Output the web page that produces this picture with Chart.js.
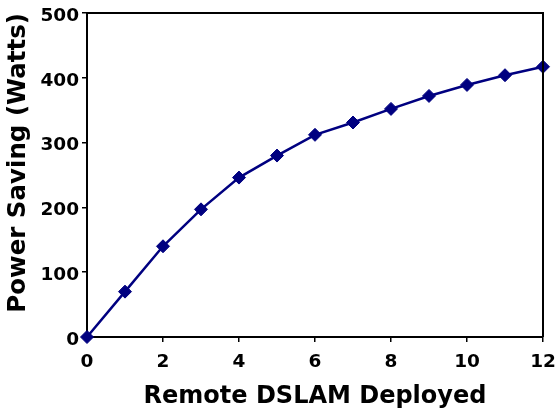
<!DOCTYPE html>
<html>
<head>
<meta charset="utf-8">
<script src="https://cdn.jsdelivr.net/npm/chart.js@4/dist/chart.umd.min.js"></script>
<style>
  html, body { margin: 0; padding: 0; background: #fff; }
  #wrap { width: 560px; height: 420px; }
</style>
</head>
<body>
<div id="wrap"><canvas id="c" width="560" height="420"></canvas></div>
<script>
const dslamDeployed = [0, 1, 2, 3, 4, 5, 6, 7, 8, 9, 10, 11, 12];
const powerSaving = [0, 70, 140, 197, 246, 280, 312, 331, 352, 372, 389, 404, 417];
const xTitle = 'Remote DSLAM Deployed';
const yTitle = 'Power Saving (Watts)';

const FONT = '"DejaVu Sans", Arial, sans-serif';

const frame = {
  id: 'frame',
  afterDatasetsDraw(chart) {
    const a = chart.chartArea, ctx = chart.ctx;
    ctx.save();
    ctx.strokeStyle = '#000';
    ctx.lineWidth = 2;
    ctx.beginPath();
    ctx.moveTo(a.left, a.top);
    ctx.lineTo(a.right, a.top);
    ctx.lineTo(a.right, a.bottom);
    ctx.stroke();
    ctx.restore();
  }
};

new Chart(document.getElementById('c'), {
  type: 'scatter',
  data: {
    datasets: [{
      data: dslamDeployed.map((x, i) => ({x: x, y: powerSaving[i]})),
      showLine: true,
      borderColor: '#000080',
      backgroundColor: '#000080',
      borderWidth: 2.5,
      pointStyle: 'rectRot',
      pointRadius: 6.5,
      pointBorderWidth: 1,
      pointBorderColor: '#000080',
      pointBackgroundColor: '#000080',
      clip: false
    }]
  },
  plugins: [frame],
  options: {
    responsive: false,
    animation: false,
    devicePixelRatio: 1,
    layout: { padding: { left: 0, right: 17, top: 13, bottom: 0 } },
    plugins: { legend: { display: false }, tooltip: { enabled: false } },
    scales: {
      x: {
        type: 'linear',
        min: 0, max: 12,
        afterFit(s) { s.height = 83; s.paddingLeft = 0; s.paddingRight = 0; },
        border: { display: true, color: '#000', width: 2 },
        grid: { drawOnChartArea: false, drawTicks: true, tickLength: 5, color: '#000', lineWidth: 1.5 },
        ticks: { stepSize: 2, color: '#000', padding: 9, maxRotation: 0,
                 font: { family: FONT, weight: 'bold', size: 18.5 } },
        title: { display: true, text: xTitle, color: '#000',
                 padding: { top: 0, bottom: 9 },
                 font: { family: FONT, weight: 'bold', size: 24 } }
      },
      y: {
        type: 'linear',
        min: 0, max: 500,
        afterFit(s) { s.width = 87; s.paddingTop = 0; s.paddingBottom = 0; },
        border: { display: true, color: '#000', width: 2 },
        grid: { drawOnChartArea: false, drawTicks: true, tickLength: 5, color: '#000', lineWidth: 1.5 },
        ticks: { stepSize: 100, color: '#000', padding: 3, labelOffset: 3,
                 font: { family: FONT, weight: 'bold', size: 18.5 } },
        title: { display: true, text: yTitle, color: '#000', align: 'end',
                 padding: { top: 4, bottom: 0 },
                 font: { family: FONT, weight: 'bold', size: 24.5 } }
      }
    }
  }
});
</script>
</body>
</html>
